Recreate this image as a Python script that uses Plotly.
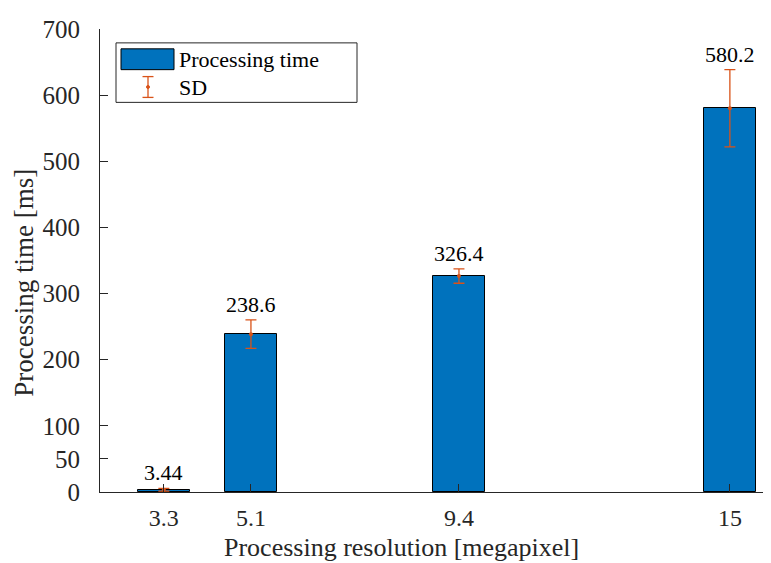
import plotly.graph_objects as go

resolution = [3.3, 5.1, 9.4, 15]
time_ms = [3.44, 238.6, 326.4, 580.2]
sd_ms = [2.0, 21.5, 10.8, 58.5]
labels = ["3.44", "238.6", "326.4", "580.2"]
y_ticks = [0, 50, 100, 200, 300, 400, 500, 600, 700]
x_title = "Processing resolution [megapixel]"
y_title = "Processing time [ms]"

W, H = 771, 563
OFF = 8  # page body margin
L, R, T, B = 100, 771, 25, 492  # plot area in window pixels
FONT = "Liberation Serif"
BLUE = "#0072BD"
ORANGE = "#D95319"
INK = "#262626"

def px(x):
    return (x - L) / (R - L)

def py(y):
    return (B - y) / (B - T)

fig = go.Figure()
fig.add_trace(go.Bar(
    x=resolution, y=time_ms, width=1.08,
    marker=dict(color=BLUE, line=dict(color="black", width=1)),
    showlegend=False,
))
fig.add_trace(go.Scatter(
    x=resolution, y=time_ms, mode="markers",
    marker=dict(color=ORANGE, size=4),
    error_y=dict(type="data", array=sd_ms, color=ORANGE, thickness=1.3, width=5.5),
    showlegend=False,
))

annotations = []
for xv, yv, sv, lab in zip(resolution, time_ms, sd_ms, labels):
    annotations.append(dict(x=xv, y=yv + sv, text=lab, showarrow=False,
                            yanchor="bottom", yshift=1,
                            font=dict(family=FONT, size=22, color="black")))

shapes = [
    dict(type="rect", xref="paper", yref="paper", x0=px(116), x1=px(357), y0=py(99), y1=py(39),
         line=dict(color=INK, width=1), fillcolor="white", layer="above"),
    dict(type="rect", xref="paper", yref="paper", x0=px(121), x1=px(174), y0=py(66), y1=py(45),
         line=dict(color="black", width=1), fillcolor=BLUE, layer="above"),
    dict(type="line", xref="paper", yref="paper", x0=px(148), x1=px(148), y0=py(94), y1=py(73),
         line=dict(color=ORANGE, width=1.3), layer="above"),
    dict(type="line", xref="paper", yref="paper", x0=px(142.5), x1=px(153.5), y0=py(73), y1=py(73),
         line=dict(color=ORANGE, width=1.3), layer="above"),
    dict(type="line", xref="paper", yref="paper", x0=px(142.5), x1=px(153.5), y0=py(94), y1=py(94),
         line=dict(color=ORANGE, width=1.3), layer="above"),
    dict(type="circle", xref="paper", yref="paper", x0=px(146.5), x1=px(149.5), y0=py(85), y1=py(82),
         line=dict(color=ORANGE, width=1), fillcolor=ORANGE, layer="above"),
]
annotations += [
    dict(xref="paper", yref="paper", x=px(177), y=py(56), text="Processing time", showarrow=False,
         xanchor="left", yanchor="middle", font=dict(family=FONT, size=22, color="black")),
    dict(xref="paper", yref="paper", x=px(177), y=py(84), text="SD", showarrow=False,
         xanchor="left", yanchor="middle", font=dict(family=FONT, size=22, color="black")),
    # axis titles
    dict(xref="paper", yref="paper", x=px(401), y=py(548), text=x_title, showarrow=False,
         xanchor="center", yanchor="middle", font=dict(family=FONT, size=26, color=INK)),
    dict(xref="paper", yref="paper", x=px(24), y=py(281), text=y_title, showarrow=False,
         textangle=-90, xanchor="center", yanchor="middle", font=dict(family=FONT, size=27, color=INK)),
]

fig.update_layout(
    width=W, height=H,
    margin=dict(l=L - OFF, r=W - (R - OFF), t=T - OFF, b=H - (B - OFF), pad=0),
    plot_bgcolor="white", paper_bgcolor="white",
    font=dict(family=FONT, size=20, color=INK),
    shapes=shapes, annotations=annotations,
    showlegend=False,
    bargap=0,
)
fig.update_xaxes(
    range=[1.98, 15.85], tickvals=resolution, ticktext=["3.3", "5.1", "9.4", "15"],
    ticks="inside", ticklen=8, tickcolor=INK, showline=True, linecolor=INK, linewidth=1,
    showgrid=False, zeroline=False,
    tickfont=dict(family=FONT, size=24, color=INK),
    ticklabelstandoff=4,
)
fig.update_yaxes(
    range=[0, 700], tickvals=y_ticks,
    ticks="inside", ticklen=8, tickcolor=INK, showline=True, linecolor=INK, linewidth=1,
    showgrid=False, zeroline=False,
    tickfont=dict(family=FONT, size=25, color=INK),
    ticklabelstandoff=14,
)

fig.write_html("out.html")
